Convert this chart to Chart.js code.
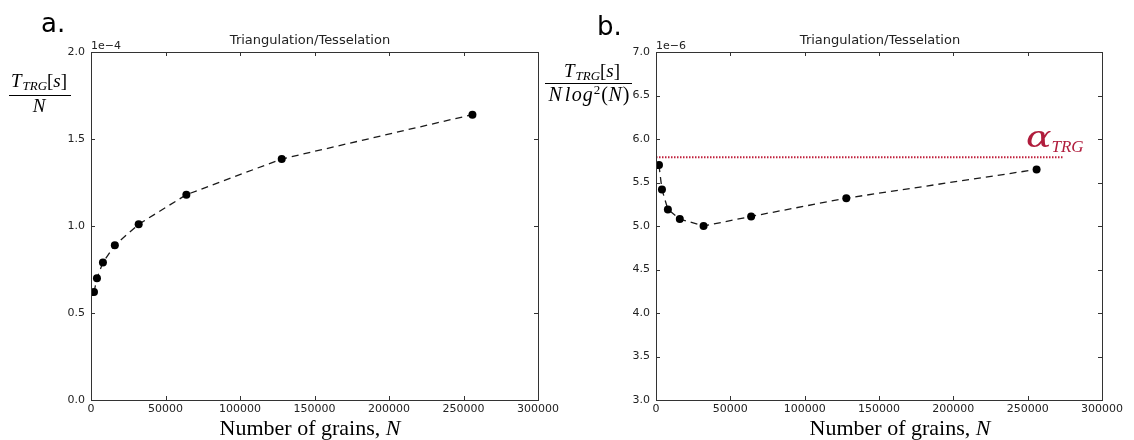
<!DOCTYPE html>
<html>
<head>
<meta charset="utf-8">
<script src="https://cdn.jsdelivr.net/npm/chart.js@4.4.1/dist/chart.umd.min.js"></script>
<style>
  html, body { margin: 0; padding: 0; background: #fff; }
  #wrap { position: relative; width: 1134px; height: 440px; }
  #wrap canvas { position: absolute; left: 0; top: 0; }
</style>
</head>
<body>
<div id="wrap">
  <canvas id="chartA" width="1134" height="440"></canvas>
  <canvas id="chartB" width="1134" height="440"></canvas>
</div>
<script>
// Data
const grains = [2000, 4000, 8000, 16000, 32000, 64000, 128000, 256000];
const timePerGrain = [0.62, 0.70, 0.79, 0.89, 1.01, 1.18, 1.385, 1.64]; // x 1e-4
const timePerNlog2 = [5.70, 5.42, 5.19, 5.08, 5.00, 5.11, 5.32, 5.65]; // x 1e-6
const alphaTRG = [5.79, 5.79];
const alphaGrains = [0, 274000];

const TICK_FONT = { family: 'DejaVu Sans', size: 11 };
const SERIF = '"Liberation Serif", "Times New Roman", serif';

function mathFont(p) {
  return (p.it ? 'italic ' : '') + p.size + 'px ' + (p.family || SERIF);
}

// draw a run of text pieces (sub/superscripts by dy), centred or left aligned
function drawMath(ctx, parts, x, baseline, align) {
  const widths = parts.map((p) => {
    ctx.font = mathFont(p);
    return ctx.measureText(p.t).width * (p.sx || 1) + (p.gap || 0);
  });
  const w = widths.reduce((s, v) => s + v, 0);
  let cx = align === 'left' ? x : x - w / 2;
  ctx.textAlign = 'left';
  ctx.textBaseline = 'alphabetic';
  parts.forEach((p, i) => {
    ctx.font = mathFont(p);
    ctx.save();
    ctx.translate(cx, baseline + (p.dy || 0));
    ctx.scale(p.sx || 1, 1);
    ctx.fillText(p.t, 0, 0);
    ctx.restore();
    cx += widths[i];
  });
  return w;
}

// frame on all four sides and inward ticks (matplotlib classic look)
const frameTicks = {
  id: 'frameTicks',
  afterDraw(chart) {
    const { ctx, chartArea: a, scales } = chart;
    const x = scales.x, y = scales.y;
    ctx.save();
    ctx.strokeStyle = '#333';
    ctx.lineWidth = 1;
    ctx.beginPath();
    x.ticks.forEach((t) => {
      const px = Math.round(x.getPixelForValue(t.value)) + 0.5;
      ctx.moveTo(px, a.bottom); ctx.lineTo(px, a.bottom - 4);
      ctx.moveTo(px, a.top); ctx.lineTo(px, a.top + 4);
    });
    y.ticks.forEach((t) => {
      const py = Math.round(y.getPixelForValue(t.value)) + 0.5;
      ctx.moveTo(a.left, py); ctx.lineTo(a.left + 4, py);
      ctx.moveTo(a.right, py); ctx.lineTo(a.right - 4, py);
    });
    ctx.stroke();
    ctx.strokeRect(Math.round(a.left) + 0.5, Math.round(a.top) + 0.5,
      Math.round(a.right - a.left), Math.round(a.bottom - a.top));
    ctx.restore();
  },
};

// titles, offset text, panel letters, fraction labels
const decor = {
  id: 'decor',
  afterDraw(chart, args, o) {
    const { ctx, chartArea: a } = chart;
    ctx.save();
    ctx.fillStyle = '#000';
    ctx.textBaseline = 'alphabetic';

    ctx.font = '26px "DejaVu Sans"';
    ctx.textAlign = 'left';
    ctx.fillText(o.letter, o.letterX, o.letterY);

    ctx.font = '13px "DejaVu Sans"';
    ctx.textAlign = 'center';
    ctx.fillStyle = '#222';
    ctx.fillText('Triangulation/Tesselation', o.titleX, 44);

    ctx.font = '11px "DejaVu Sans"';
    ctx.textAlign = 'left';
    ctx.fillText(o.offset, a.left, 49);

    ctx.fillStyle = '#000';
    drawMath(ctx, [
      { t: 'Number of grains, ', size: 22 },
      { t: 'N', size: 22, it: true },
    ], o.xlabelX, 435);

    const f = o.frac;
    drawMath(ctx, f.num, f.numX, f.numY);
    drawMath(ctx, f.den, f.denX, f.denY);
    ctx.strokeStyle = '#000';
    ctx.lineWidth = 1;
    ctx.beginPath();
    ctx.moveTo(f.bar[0], f.barY);
    ctx.lineTo(f.bar[1], f.barY);
    ctx.stroke();

    if (o.alpha) {
      ctx.fillStyle = '#b01c3c';
      drawMath(ctx, [
        { t: 'α', size: 29, it: true, family: '"DejaVu Serif", serif', sx: 1.3, gap: 0 },
        { t: 'TRG', size: 17, it: true, dy: 5 },
      ], o.alpha.x, o.alpha.y, 'left');
    }
    ctx.restore();
  },
};

const numerator = [
  { t: 'T', size: 19, it: true, gap: 1 },
  { t: 'TRG', size: 13, it: true, dy: 3 },
  { t: '[', size: 19 },
  { t: 's', size: 19, it: true },
  { t: ']', size: 19 },
];

function makeChart(id, values, yMin, yMax, plotLeft, plotRight, decorOpts, extra) {
  const datasets = [{
    data: grains.map((g, i) => ({ x: g, y: values[i] })),
    borderColor: '#1a1a1a',
    borderWidth: 1.3,
    borderDash: [7, 5],
    pointRadius: 4,
    pointBackgroundColor: '#000',
    pointBorderWidth: 0,
    tension: 0,
  }];
  if (extra) datasets.push(extra);

  return new Chart(document.getElementById(id), {
    type: 'line',
    data: { datasets },
    options: {
      responsive: false,
      devicePixelRatio: 1,
      animation: false,
      layout: { padding: { left: 0, top: 52, right: 1134 - plotRight, bottom: 0 } },
      plugins: {
        legend: { display: false },
        tooltip: { enabled: false },
        decor: decorOpts,
      },
      scales: {
        x: {
          type: 'linear',
          min: 0,
          max: 300000,
          grid: { display: false, drawTicks: false },
          border: { display: false },
          ticks: {
            stepSize: 50000,
            autoSkip: false,
            maxRotation: 0,
            padding: 3,
            color: '#222',
            font: TICK_FONT,
            callback: (v) => String(v),
          },
          afterFit: (s) => { s.height = 40; },
        },
        y: {
          min: yMin,
          max: yMax,
          grid: { display: false, drawTicks: false },
          border: { display: false },
          ticks: {
            stepSize: 0.5,
            padding: 6,
            color: '#222',
            font: TICK_FONT,
            callback: (v) => v.toFixed(1),
          },
          afterFit: (s) => { s.width = plotLeft; },
        },
      },
    },
    plugins: [frameTicks, decor],
  });
}

makeChart('chartA', timePerGrain, 0, 2, 91, 538, {
  letter: 'a.', letterX: 41, letterY: 32,
  titleX: 310,
  offset: '1e\u22124',
  xlabelX: 310,
  frac: {
    num: numerator, numX: 39, numY: 87,
    den: [{ t: 'N', size: 19, it: true }], denX: 39, denY: 112,
    bar: [9, 71], barY: 95.5,
  },
});

makeChart('chartB', timePerNlog2, 3, 7, 656, 1102, {
  letter: 'b.', letterX: 597, letterY: 35,
  titleX: 880,
  offset: '1e\u22126',
  xlabelX: 900,
  frac: {
    num: numerator, numX: 592, numY: 77,
    den: [
      { t: 'N', size: 20, it: true, gap: 3 },
      { t: 'l', size: 20, it: true, gap: 1.5 },
      { t: 'o', size: 20, it: true, gap: 1 },
      { t: 'g', size: 20, it: true, gap: 1 },
      { t: '2', size: 13, dy: -7, gap: 1 },
      { t: '(', size: 20, gap: 0.5 },
      { t: 'N', size: 20, it: true, gap: 1 },
      { t: ')', size: 20 },
    ],
    denX: 589, denY: 101,
    bar: [545, 632], barY: 83.5,
  },
  alpha: { x: 1026, y: 147 },
}, {
  data: alphaGrains.map((g, i) => ({ x: g, y: alphaTRG[i] })),
  borderColor: '#c0203c',
  borderWidth: 2,
  borderDash: [1.5, 1.5],
  pointRadius: 0,
});
</script>
</body>
</html>
